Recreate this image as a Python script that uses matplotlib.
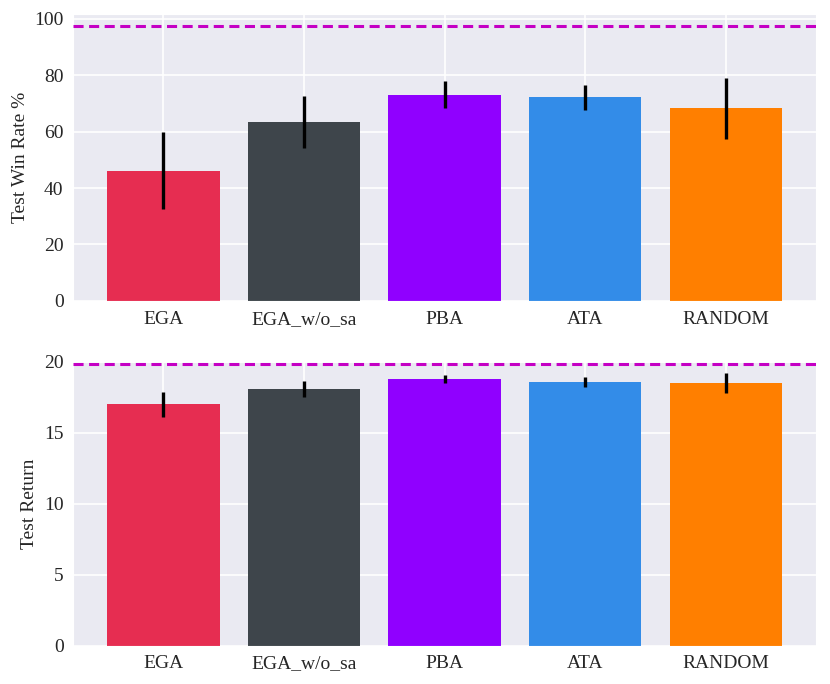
import matplotlib
matplotlib.use('Agg')
import matplotlib.pyplot as plt
import seaborn as sns

methods = ['EGA', 'EGA_w/o_sa', 'PBA', 'ATA', 'RANDOM']
win_rate = [46.2, 63.3, 73.1, 72.1, 68.2]
win_rate_err = [13.5, 9.3, 4.9, 4.5, 10.8]
ret = [17.0, 18.07, 18.79, 18.58, 18.51]
ret_err = [0.9, 0.58, 0.28, 0.33, 0.71]
win_rate_ref = 97.5
ret_ref = 19.85
colors = ['#e62d51', '#3e454b', '#9000ff', '#338ce8', '#ff7f00']

sns.set_style('darkgrid')
plt.rcParams['font.family'] = ['Liberation Serif', 'DejaVu Serif']
plt.rcParams['grid.linewidth'] = 1.2

fig = plt.figure(figsize=(8.3, 6.84), dpi=100)
ax1 = fig.add_axes([0.0883, 0.560, 0.8947, 0.419])
ax2 = fig.add_axes([0.0883, 0.056, 0.8947, 0.415])

x = range(len(methods))
for ax, vals, errs, ref, ylab, ytop in [
        (ax1, win_rate, win_rate_err, win_rate_ref, 'Test Win Rate %', 101.5),
        (ax2, ret, ret_err, ret_ref, 'Test Return', 20.0)]:
    ax.bar(x, vals, width=0.8, color=colors, linewidth=0, yerr=errs,
           error_kw=dict(elinewidth=2.4, ecolor='black', capsize=0), zorder=2)
    ax.axhline(ref, color='#c400c4', linestyle='--', linewidth=2.2, dashes=(3.3, 1.8), zorder=3)
    ax.set_xticks(list(x))
    ax.set_xticklabels(methods, fontsize=14)
    ax.tick_params(axis='y', labelsize=14)
    ax.set_ylabel(ylab, fontsize=14)
    ax.set_xlim(-0.64, 4.64)
    ax.set_ylim(0, ytop)

ax1.set_yticks([0, 20, 40, 60, 80, 100])
ax2.set_yticks([0, 5, 10, 15, 20])

fig.savefig('out.png', dpi=100)
